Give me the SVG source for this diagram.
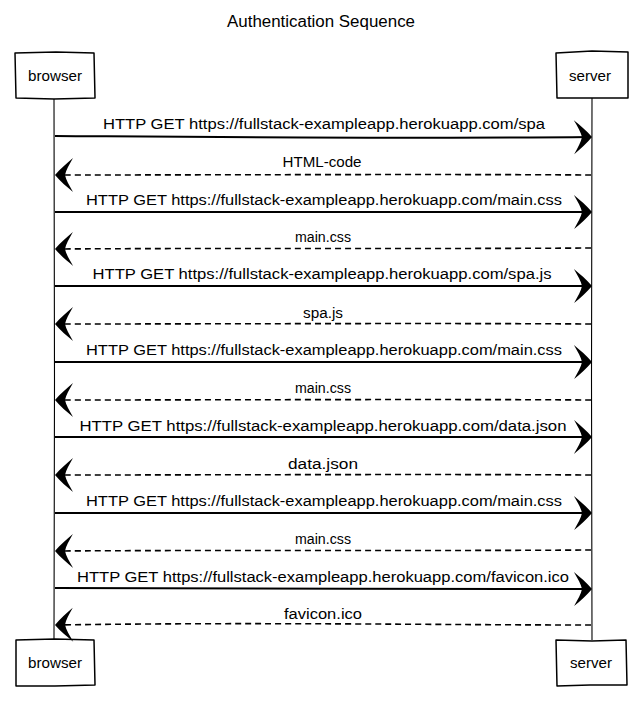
<svg xmlns="http://www.w3.org/2000/svg" width="640" height="709" viewBox="0 0 640 709">
  <defs>
    <style>
      .box { fill: #ffffff; stroke: #000000; stroke-width: 1.5; stroke-linejoin: round; }
      .life { fill: none; stroke: #000000; stroke-width: 1.1; }
      .msg { fill: none; stroke: #000000; stroke-width: 2; }
      .reply { fill: none; stroke: #000000; stroke-width: 1.6; stroke-dasharray: 6 4; }
      .lbl { font-family: "Liberation Sans", Arial, sans-serif; font-size: 14px; fill: #000000; text-anchor: middle; }
      .actor { font-family: "Liberation Sans", Arial, sans-serif; font-size: 15px; fill: #000000; text-anchor: middle; }
      .title { font-family: "Liberation Sans", Arial, sans-serif; font-size: 16px; fill: #000000; text-anchor: middle; }
    </style>
    <marker id="head" markerUnits="userSpaceOnUse" markerWidth="24" markerHeight="40" viewBox="-20 -20 24 40" refX="0" refY="0" orient="auto">
      <path d="M1,0 C-4,-6 -11,-12 -17,-17 C-13,-10 -10,-5 -9,0 C-10,5 -13,10 -17,17 C-11,12 -4,6 1,0 Z" fill="#000000"/>
    </marker>
  </defs>

  <rect width="640" height="709" fill="#ffffff"/>

  <g id="title">
    <text class="title" x="321" y="27" textLength="188" lengthAdjust="spacingAndGlyphs">Authentication Sequence</text>
  </g>

  <g id="lifelines">
    <path class="life" d="M54,99 L54.5,380 L54,640"/>
    <path class="life" d="M592,98 L591.5,380 L592,640"/>
  </g>

  <g id="browser-top">
    <path class="box" d="M15,53 L56,52 L94,53 L95,98 L54,99 L16,98 Z"/>
    <text class="actor" x="55" y="81" textLength="54" lengthAdjust="spacingAndGlyphs">browser</text>
  </g>
  <g id="server-top">
    <path class="box" d="M556,53 L592,51 L628,52 L628,98 L590,98 L557,98 Z"/>
    <text class="actor" x="590" y="81" textLength="42" lengthAdjust="spacingAndGlyphs">server</text>
  </g>
  <g id="browser-bottom">
    <path class="box" d="M16,640 L55,639 L94,640 L95,685 L55,686 L16,686 Z"/>
    <text class="actor" x="55" y="668" textLength="54" lengthAdjust="spacingAndGlyphs">browser</text>
  </g>
  <g id="server-bottom">
    <path class="box" d="M556,640 L592,641 L626,640 L627,685 L590,685 L557,686 Z"/>
    <text class="actor" x="591" y="668" textLength="42" lengthAdjust="spacingAndGlyphs">server</text>
  </g>

  <g id="connectors">
    <g id="m1">
      <path class="msg" marker-end="url(#head)" d="M55,136 C200,137 420,139 591,137"/>
      <text class="lbl" x="324" y="129" textLength="442" lengthAdjust="spacingAndGlyphs">HTTP GET https://fullstack-exampleapp.herokuapp.com/spa</text>
    </g>
    <g id="m2">
      <path class="reply" marker-end="url(#head)" d="M591,175 C440,174 200,175 56,175"/>
      <text class="lbl" x="322" y="167" textLength="79" lengthAdjust="spacingAndGlyphs">HTML-code</text>
    </g>
    <g id="m3">
      <path class="msg" marker-end="url(#head)" d="M55,212 C220,211 420,213 591,212"/>
      <text class="lbl" x="324" y="205" textLength="476" lengthAdjust="spacingAndGlyphs">HTTP GET https://fullstack-exampleapp.herokuapp.com/main.css</text>
    </g>
    <g id="m4">
      <path class="reply" marker-end="url(#head)" d="M591,248 C440,249 200,248 56,249"/>
      <text class="lbl" x="323" y="242" textLength="56" lengthAdjust="spacingAndGlyphs">main.css</text>
    </g>
    <g id="m5">
      <path class="msg" marker-end="url(#head)" d="M55,286 C220,285 420,287 591,286"/>
      <text class="lbl" x="322" y="279" textLength="459" lengthAdjust="spacingAndGlyphs">HTTP GET https://fullstack-exampleapp.herokuapp.com/spa.js</text>
    </g>
    <g id="m6">
      <path class="reply" marker-end="url(#head)" d="M591,324 C440,323 200,324 56,324"/>
      <text class="lbl" x="323" y="318" textLength="40" lengthAdjust="spacingAndGlyphs">spa.js</text>
    </g>
    <g id="m7">
      <path class="msg" marker-end="url(#head)" d="M55,362 C220,361 420,363 591,362"/>
      <text class="lbl" x="324" y="355" textLength="476" lengthAdjust="spacingAndGlyphs">HTTP GET https://fullstack-exampleapp.herokuapp.com/main.css</text>
    </g>
    <g id="m8">
      <path class="reply" marker-end="url(#head)" d="M591,400 C440,399 200,400 56,400"/>
      <text class="lbl" x="323" y="393" textLength="56" lengthAdjust="spacingAndGlyphs">main.css</text>
    </g>
    <g id="m9">
      <path class="msg" marker-end="url(#head)" d="M55,437 C220,438 420,436 591,437"/>
      <text class="lbl" x="323" y="431" textLength="487" lengthAdjust="spacingAndGlyphs">HTTP GET https://fullstack-exampleapp.herokuapp.com/data.json</text>
    </g>
    <g id="m10">
      <path class="reply" marker-end="url(#head)" d="M591,475 C440,474 200,475 56,475"/>
      <text class="lbl" x="323" y="469" textLength="70" lengthAdjust="spacingAndGlyphs">data.json</text>
    </g>
    <g id="m11">
      <path class="msg" marker-end="url(#head)" d="M55,513 C220,512 420,514 591,513"/>
      <text class="lbl" x="324" y="506" textLength="476" lengthAdjust="spacingAndGlyphs">HTTP GET https://fullstack-exampleapp.herokuapp.com/main.css</text>
    </g>
    <g id="m12">
      <path class="reply" marker-end="url(#head)" d="M591,550 C440,551 200,550 56,551"/>
      <text class="lbl" x="323" y="544" textLength="56" lengthAdjust="spacingAndGlyphs">main.css</text>
    </g>
    <g id="m13">
      <path class="msg" marker-end="url(#head)" d="M55,588 C220,587 420,590 591,589"/>
      <text class="lbl" x="323" y="582" textLength="492" lengthAdjust="spacingAndGlyphs">HTTP GET https://fullstack-exampleapp.herokuapp.com/favicon.ico</text>
    </g>
    <g id="m14">
      <path class="reply" marker-end="url(#head)" d="M591,625 C440,625 250,622 56,625"/>
      <text class="lbl" x="323" y="619" textLength="78" lengthAdjust="spacingAndGlyphs">favicon.ico</text>
    </g>
  </g>
</svg>
